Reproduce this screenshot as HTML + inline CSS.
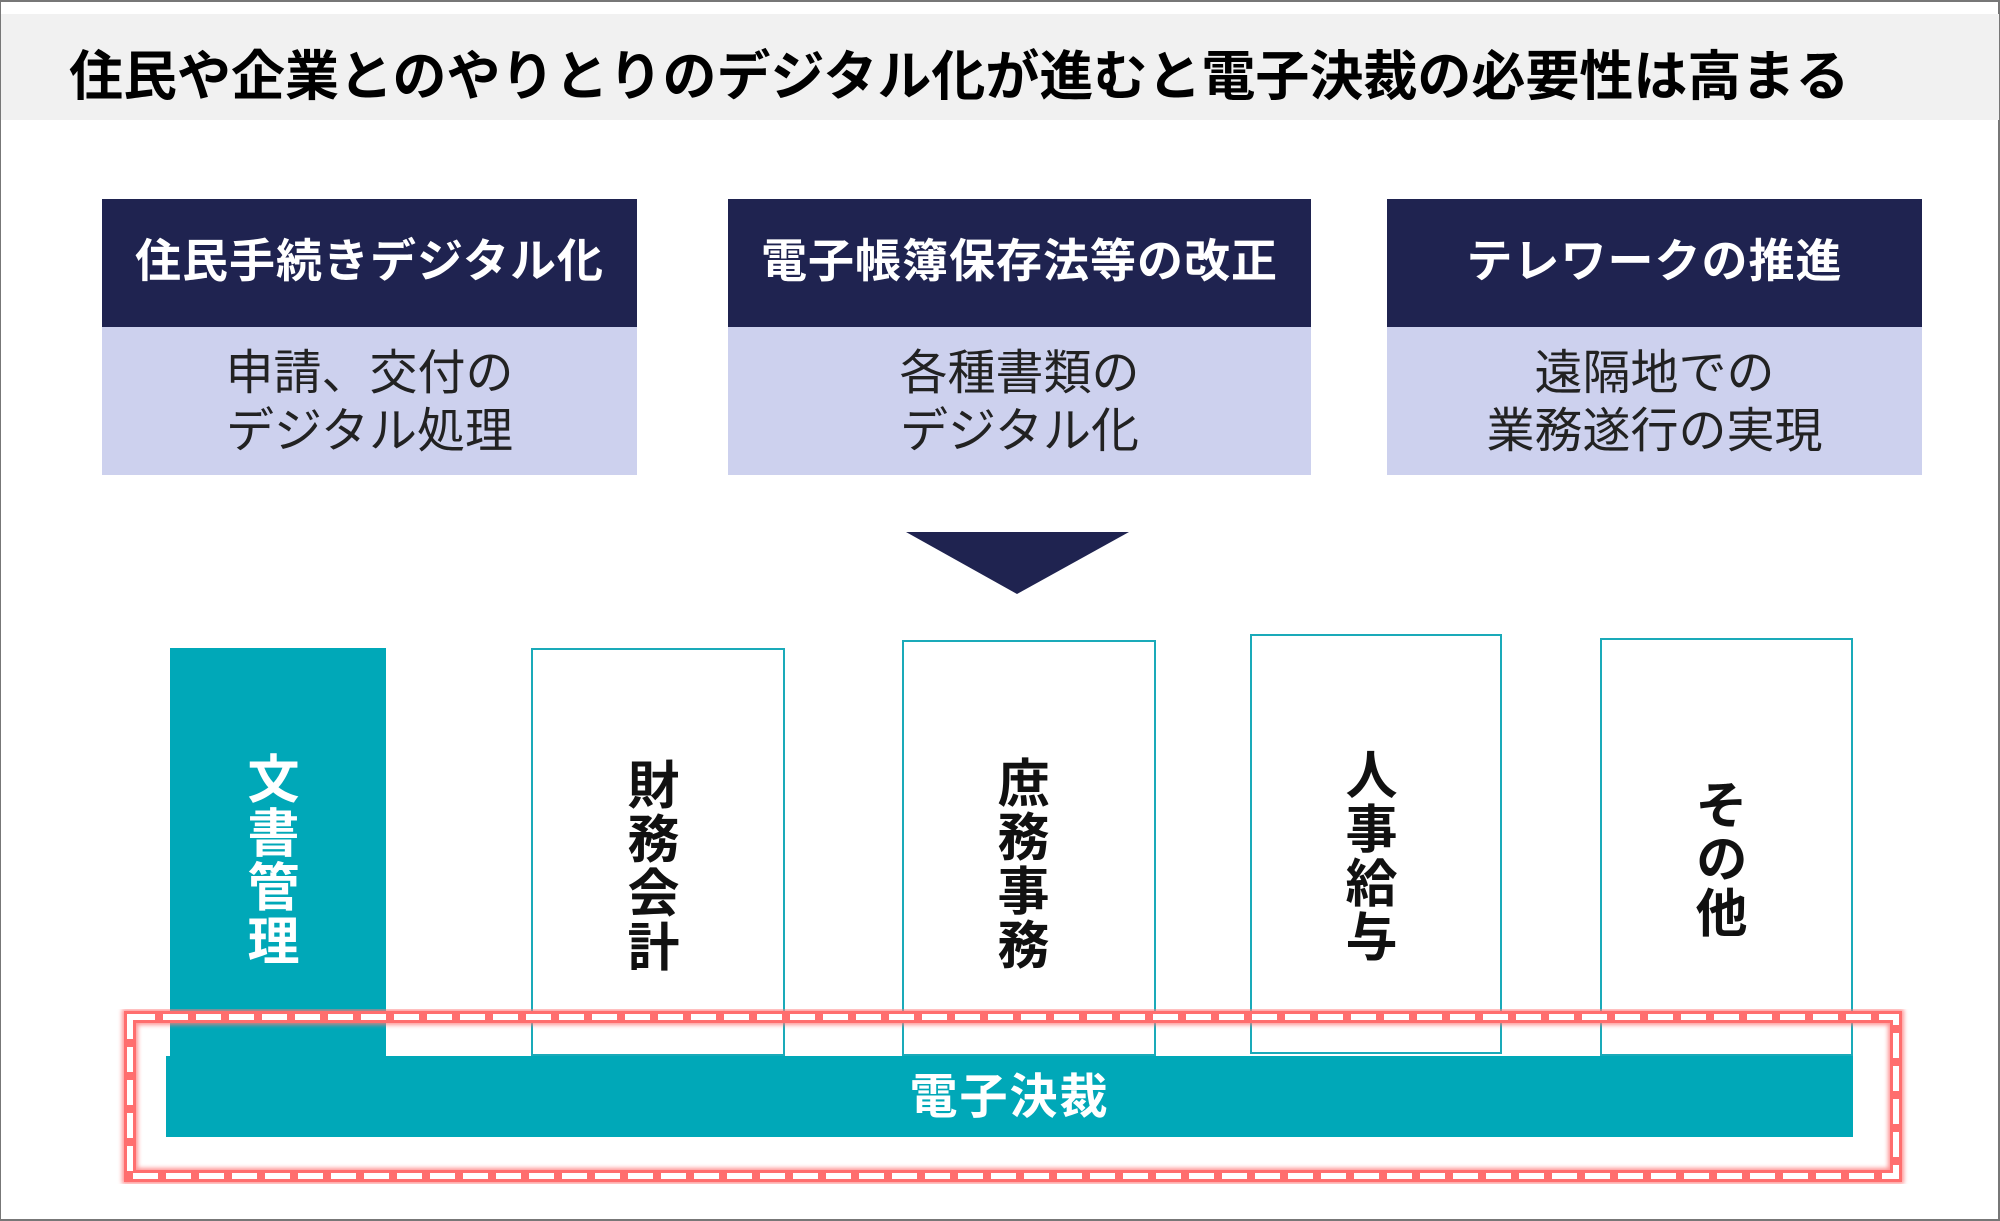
<!DOCTYPE html>
<html><head><meta charset="utf-8"><style>
*{margin:0;padding:0;box-sizing:border-box}
body{width:2000px;height:1221px;position:relative;background:#fff;font-family:"Liberation Sans","Noto Sans CJK JP",sans-serif;overflow:hidden}
.frame{position:absolute;left:0;top:0;width:2000px;height:1221px;border:2px solid #777;border-left-width:1px}
.title{position:absolute;left:1px;top:14px;width:1998px;height:106px;background:#f1f1f1}
.title span{position:absolute;left:68px;top:30px;font-size:54px;font-weight:bold;color:#000;letter-spacing:0px;white-space:nowrap;line-height:66px}
.hd{position:absolute;background:#1f2350;color:#fff;font-weight:bold;font-size:46px;text-align:center;line-height:124px;white-space:nowrap;letter-spacing:1px}
.bd{position:absolute;background:#cdd1ee;color:#222;font-size:48px;text-align:center;line-height:58px;padding-top:18px;white-space:nowrap}
.col{position:absolute;border:2px solid #1aaab9;background:#fff}
.vt{position:absolute;writing-mode:vertical-rl;font-weight:bold;font-size:52px;line-height:52px;letter-spacing:2px;color:#111}
</style></head><body>
<div class="frame"></div>
<div class="title"><span>住民や企業とのやりとりのデジタル化が進むと電子決裁の必要性は高まる</span></div>

<div class="hd" style="left:102px;top:199px;width:535px;height:128px">住民手続きデジタル化</div>
<div class="bd" style="left:102px;top:327px;width:535px;height:148px">申請、交付の<br>デジタル処理</div>
<div class="hd" style="left:728px;top:199px;width:583px;height:128px">電子帳簿保存法等の改正</div>
<div class="bd" style="left:728px;top:327px;width:583px;height:148px">各種書類の<br>デジタル化</div>
<div class="hd" style="left:1387px;top:199px;width:535px;height:128px">テレワークの推進</div>
<div class="bd" style="left:1387px;top:327px;width:535px;height:148px">遠隔地での<br>業務遂行の実現</div>

<svg style="position:absolute;left:0;top:0" width="2000" height="1221">
<polygon points="906,532 1129,532 1017,594" fill="#1f2350"/>
</svg>

<div style="position:absolute;left:170px;top:648px;width:216px;height:408px;background:#00a8b8"></div>
<div class="col" style="left:531px;top:648px;width:254px;height:408px"></div>
<div class="col" style="left:902px;top:640px;width:254px;height:416px"></div>
<div class="col" style="left:1250px;top:634px;width:252px;height:420px"></div>
<div class="col" style="left:1600px;top:638px;width:253px;height:418px"></div>

<div class="vt" style="left:242px;top:752px;color:#fff">文書管理</div>
<div class="vt" style="left:622px;top:758px">財務会計</div>
<div class="vt" style="left:992px;top:756px">庶務事務</div>
<div class="vt" style="left:1340px;top:748px">人事給与</div>
<div class="vt" style="left:1690px;top:778px">その他</div>

<div style="position:absolute;left:166px;top:1056px;width:1687px;height:81px;background:#00a8b8;color:#fff;font-weight:bold;font-size:48px;text-align:center;line-height:84px;letter-spacing:2px">電子決裁</div>

<svg style="position:absolute;left:0;top:0" width="2000" height="1221">
<defs><filter id="g" x="-5%" y="-5%" width="110%" height="110%"><feGaussianBlur stdDeviation="2"/></filter></defs>
<rect x="130" y="1017" width="1766" height="159" fill="none" stroke="#ff7a7a" stroke-width="16" filter="url(#g)" opacity="0.8"/>
<rect x="130" y="1017" width="1766" height="159" fill="none" stroke="#ff6e6e" stroke-width="12"/>
<rect x="130" y="1017" width="1766" height="159" fill="none" stroke="#fff" stroke-width="6" stroke-dasharray="25 8"/>
</svg>
</body></html>
